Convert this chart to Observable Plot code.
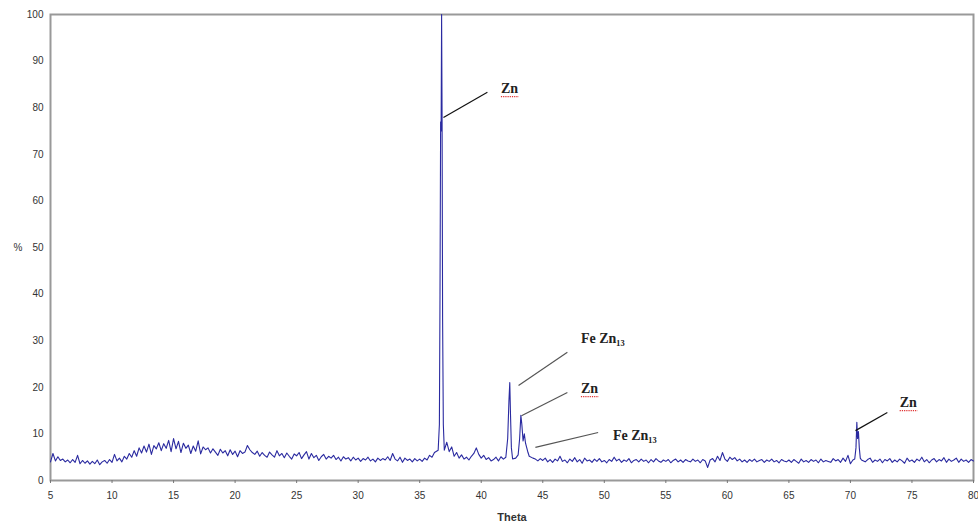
<!DOCTYPE html>
<html>
<head>
<meta charset="utf-8">
<script src="https://cdn.jsdelivr.net/npm/d3@7"></script>
<script src="https://cdn.jsdelivr.net/npm/@observablehq/plot@0.6"></script>
<style>
  html, body { margin: 0; padding: 0; background: #fff; }
  #chart { width: 978px; height: 528px; }
</style>
</head>
<body>
<div id="chart"></div>
<script>
// Background scan: theta from 5.0 to 80.0 in steps of 0.2 (intensity in %)
const bgStart = 5.0;
const bgStep = 0.2;
const bgIntensity = [
  4.0, 5.8, 4.2, 5.1, 4.3, 4.6, 4.0, 4.4, 3.8, 4.5,   // 5.0
  3.9, 5.4, 3.6, 4.3, 3.7, 4.2, 3.5, 4.1, 3.6, 4.4,   // 7.0
  3.4, 4.0, 4.3, 3.7, 4.5, 3.9, 5.6, 4.2, 4.8, 4.0,   // 9.0
  5.2, 4.6, 5.8, 5.0, 6.4, 5.2, 7.0, 5.9, 7.4, 6.1,   // 11.0
  7.8, 5.6, 7.5, 6.8, 8.1, 6.4, 7.9, 6.9, 8.6, 6.2,   // 13.0
  9.0, 6.8, 8.4, 6.0, 8.0, 6.9, 7.6, 5.8, 7.4, 6.3,   // 15.0
  8.5, 5.7, 7.2, 6.6, 7.0, 5.9, 6.8, 6.1, 5.4, 6.7,   // 17.0
  5.9, 6.4, 5.3, 6.6, 5.6, 6.3, 5.1, 6.4, 5.8, 6.1,   // 19.0
  7.5, 6.6, 6.0, 5.6, 6.3, 5.2, 6.0, 5.4, 5.0, 6.1,   // 21.0
  5.5, 5.0, 6.4, 5.3, 5.8, 4.9, 5.9, 5.2, 4.6, 5.7,   // 23.0
  5.3, 6.0, 4.7, 5.5, 6.2, 4.6, 5.8, 4.9, 5.4, 4.3,   // 25.0
  5.1, 5.6, 4.6, 5.2, 4.8, 5.4, 4.5, 5.0, 4.2, 5.1,   // 27.0
  4.6, 4.9, 4.2, 5.0, 4.4, 4.8, 4.1, 4.7, 4.4, 5.0,   // 29.0
  4.2, 4.6, 4.0, 4.8, 4.3, 4.7, 4.4, 5.1, 4.3, 5.8,   // 31.0
  4.6, 4.2, 5.0, 3.9, 4.8, 4.3, 4.6, 4.0, 4.7, 4.2,   // 33.0
  4.6, 4.1, 4.8, 4.4, 5.4, 5.0, 6.0, 6.6, 6.5, 6.5,   // 35.0
  6.5, 8.2, 6.2, 7.2, 5.2, 6.0, 4.8, 5.5, 4.6, 5.0,   // 37.0
  4.4, 5.2, 5.8, 7.0, 5.6, 4.8, 5.4, 4.5, 4.9, 4.2,   // 39.0
  4.5, 5.0, 4.2, 5.1, 4.6, 5.5, 5.0, 5.0, 4.4, 4.8,   // 41.0
  6.0, 6.0, 6.0, 6.0, 6.0, 5.5, 4.8, 4.6, 4.2, 4.7,   // 43.0
  4.3, 4.8, 4.0, 4.5, 3.9, 4.6, 4.2, 5.2, 4.1, 4.4,   // 45.0
  3.8, 4.6, 4.1, 4.9, 4.0, 4.5, 3.7, 4.8, 4.2, 4.4,   // 47.0
  3.9, 4.6, 4.1, 4.7, 4.0, 4.3, 3.8, 4.5, 4.1, 5.0,   // 49.0
  4.2, 4.6, 3.9, 4.4, 4.1, 4.7, 3.8, 4.3, 4.5, 4.0,   // 51.0
  4.6, 4.1, 4.4, 3.8, 4.5, 4.0, 4.7, 4.2, 3.9, 4.4,   // 53.0
  4.1, 4.5, 3.8, 4.3, 4.6, 4.0, 4.4, 3.9, 4.5, 4.2,   // 55.0
  4.0, 4.6, 4.1, 4.4, 3.8, 4.5, 4.2, 2.8, 4.4, 4.7,   // 57.0
  4.0, 5.2, 4.3, 6.0, 4.6, 4.1, 5.0, 4.5, 4.9, 4.2,   // 59.0
  4.6, 4.0, 4.4, 3.9, 4.5, 4.1, 4.6, 4.0, 4.3, 4.5,   // 61.0
  3.9, 4.4, 4.1, 4.6, 4.0, 4.3, 3.8, 4.5, 4.2, 4.0,   // 63.0
  4.4, 3.9, 4.5, 4.1, 3.7, 4.6, 4.0, 4.3, 3.9, 4.5,   // 65.0
  4.1, 4.4, 3.8, 4.6, 4.0, 4.3, 4.1, 3.9, 4.7, 4.2,   // 67.0
  4.5, 3.9, 4.8, 4.1, 5.4, 3.6, 4.4, 4.6, 4.6, 4.6,   // 69.0
  4.6, 4.0, 4.5, 4.8, 3.9, 4.4, 4.1, 4.6, 3.8, 4.5,   // 71.0
  4.2, 4.7, 3.9, 4.4, 4.0, 4.6, 4.2, 3.7, 4.8, 4.1,   // 73.0
  4.4, 3.9, 4.6, 4.2, 5.0, 4.0, 4.5, 3.8, 4.4, 4.7,   // 75.0
  4.0, 4.5, 4.2, 4.9, 3.9, 4.6, 4.1, 4.4, 4.8, 3.9,   // 77.0
  4.6, 4.1, 4.4, 3.9, 4.5, 4.2                        // 79.0 .. 80.0
];

// Diffraction peaks sampled more finely
const peakTheta = [
  36.5, 36.6, 36.65, 36.7, 36.74, 36.78, 36.82, 36.86, 36.92, 37.0,
  42.0, 42.15, 42.25, 42.32, 42.38, 42.45, 42.55,
  43.0, 43.12, 43.22, 43.3, 43.4, 43.5, 43.6, 43.7, 43.8, 43.9,
  70.35, 70.45, 70.52, 70.58, 70.65, 70.72, 70.8, 70.9
];
const peakIntensity = [
  6.5, 12, 40, 77, 75, 100, 77, 35, 12, 6.5,
  5.0, 9, 17, 21, 14, 7, 4.6,
  5.5, 9, 14, 12, 8.5, 10, 8, 7, 6, 5.2,
  4.6, 7, 12.5, 9, 10.5, 7, 4.8, 4.4
];

// Annotations (phase labels with leader lines)
const labelText   = ["Zn", "Fe Zn₁₃", "Zn", "Fe Zn₁₃", "Zn"];
const labelTheta  = [41.6, 48.1, 48.1, 50.7, 74.0];
const labelY      = [84.1, 30.5, 19.7, 9.7, 16.7];
const leaderX1    = [36.93, 43.03, 43.27, 44.4, 70.41];
const leaderY1    = [77.9, 20.4, 13.9, 7.1, 10.7];
const leaderX2    = [40.5, 47.0, 47.0, 49.5, 73.0];
const leaderY2    = [83.3, 27.5, 18.9, 10.3, 14.6];
const leaderColor = ["#111", "#555", "#555", "#555", "#111"];

const xTicks = d3.range(5, 81, 5);
const yTicks = d3.range(0, 101, 10);

// Build the combined table
const peakPts = peakTheta.map((t, i) => ({theta: t, value: peakIntensity[i]}));
const bgPts = bgIntensity
  .map((v, i) => ({theta: +(bgStart + i * bgStep).toFixed(2), value: v}))
  .filter(p => !peakTheta.some(t => Math.abs(t - p.theta) < 0.12));
const scan = bgPts.concat(peakPts).sort((a, b) => a.theta - b.theta);

const labels = labelText.map((t, i) => ({
  text: t, x: labelTheta[i], y: labelY[i],
  x1: leaderX1[i], y1: leaderY1[i], x2: leaderX2[i], y2: leaderY2[i], c: leaderColor[i]
}));
const znLabels = labels.filter(d => d.text === "Zn");

const plot = Plot.plot({
  width: 978,
  height: 528,
  marginLeft: 50,
  marginRight: 5,
  marginTop: 14,
  marginBottom: 48,
  style: {fontFamily: "'Liberation Sans', Arial, sans-serif", fontSize: "10px", color: "#333", background: "#fff"},
  x: {domain: [5, 80], ticks: xTicks, label: null},
  y: {domain: [0, 100], ticks: yTicks, label: null},
  marks: [
    Plot.frame({stroke: "#999", strokeWidth: 2}),
    Plot.axisX({ticks: xTicks, tickSize: 3, tickPadding: 8, stroke: "#777", fill: "#333", label: null}),
    Plot.axisY({ticks: yTicks, tickSize: 0, tickPadding: 7, fill: "#333", label: null}),
    Plot.line(scan, {x: "theta", y: "value", stroke: "#2a2aa0", strokeWidth: 1.1}),
    Plot.link(labels, {x1: "x1", y1: "y1", x2: "x2", y2: "y2", stroke: "c", strokeWidth: 1.2}),
    // spell-check dotted red underline under "Zn" (as in the source screenshot)
    Plot.link(znLabels, {x1: "x", x2: d => d.x + 1.45, y1: "y", y2: "y", dy: 8,
      stroke: "#e03030", strokeWidth: 1.3, strokeDasharray: "1.2,1"}),
    Plot.text(labels, {x: "x", y: "y", text: "text", textAnchor: "start", fill: "#222",
      fontFamily: "'Liberation Serif', 'Times New Roman', serif", fontWeight: "bold", fontSize: 14}),
    Plot.text(["Theta"], {frameAnchor: "bottom", dy: 40, fontWeight: "bold", fontSize: 11, fill: "#333"}),
    Plot.text(["%"], {frameAnchor: "left", dx: -37, fontSize: 10, fill: "#333"})
  ]
});

document.getElementById("chart").appendChild(plot);
</script>
</body>
</html>
